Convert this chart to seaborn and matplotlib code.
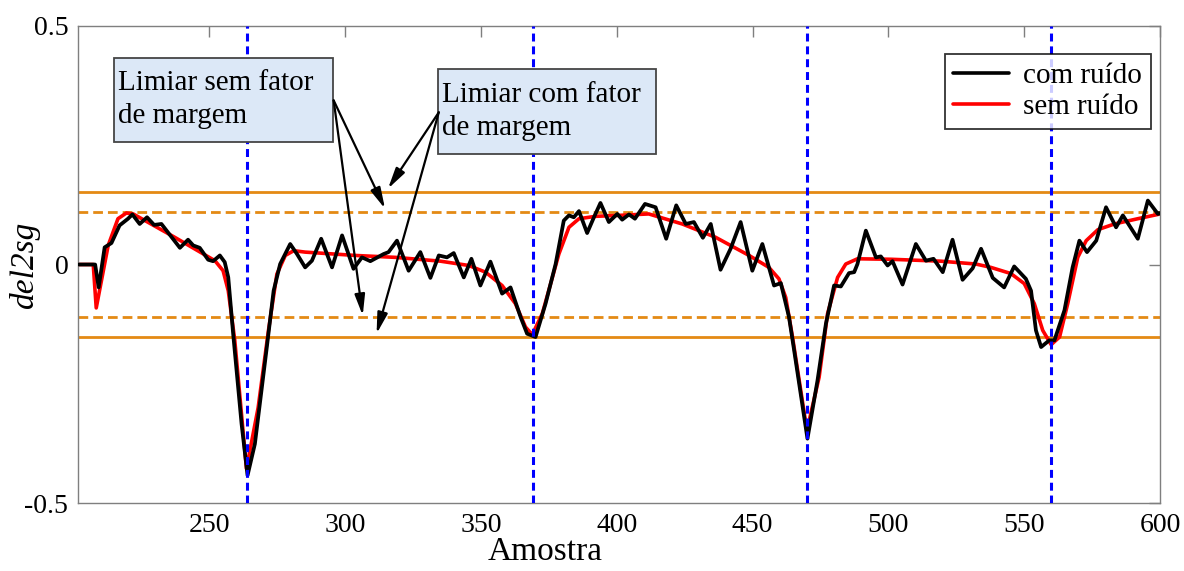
import matplotlib
matplotlib.use("Agg")
import matplotlib.pyplot as plt
import matplotlib.patches as mpatches
from matplotlib.lines import Line2D
import seaborn as sns
import pandas as pd

# Signal with noise (black)
noisy_x = [202, 208, 209.3, 211.5, 214.0, 217.0, 220.1, 221.7, 224.4, 227.1, 229.7, 232.4,
           239.2, 242.2, 244.1, 246.5, 249.6, 251.4, 253.9, 255.7, 257.0, 258.8, 261.9, 264.1,
           266.8, 271.2, 273.7, 276.1, 279.8, 282.3, 285.3, 287.8, 291.2, 295.2, 298.9, 303.1,
           306.2, 309.3, 314.2, 316.0, 319.1, 323.4, 327.7, 331.4, 334.5, 337.5, 340.0, 343.7,
           346.5, 349.8, 353.5, 357.8, 360.9, 364.6, 367.0, 370.1, 373.8, 377.5, 380.5, 382.4,
           384.2, 386.1, 389.1, 391.6, 394.0, 397.1, 400.2, 402.0, 404.5, 406.7, 410.4, 414.3,
           418.2, 421.9, 425.4, 428.4, 431.7, 434.6, 438.2, 441.9, 445.6, 449.9, 453.6, 457.9,
           460.4, 463.4, 465.3, 470.2, 473.9, 477.0, 480.0, 482.5, 485.5, 487.4, 488.6, 491.7,
           495.4, 497.2, 499.7, 501.5, 505.2, 510.1, 513.8, 516.6, 520.0, 523.6, 527.3, 531.0,
           534.1, 538.4, 542.6, 546.3, 550.6, 552.5, 554.3, 556.2, 559.2, 561.1, 564.8, 567.8,
           570.3, 573.1, 576.5, 580.1, 583.8, 586.3, 591.8, 595.5, 599.2, 600]
noisy_y = [0, 0, -0.048, 0.036, 0.045, 0.082, 0.096, 0.105, 0.085, 0.099, 0.083, 0.085,
           0.035, 0.052, 0.040, 0.035, 0.010, 0.007, 0.019, 0.005, -0.027, -0.145, -0.334, -0.442,
           -0.376, -0.173, -0.055, 0.001, 0.043, 0.022, -0.006, 0.008, 0.054, -0.006, 0.061, -0.009,
           0.015, 0.007, 0.022, 0.026, 0.050, -0.013, 0.026, -0.028, 0.019, 0.015, 0.024, -0.027,
           0.012, -0.044, 0.006, -0.061, -0.048, -0.110, -0.145, -0.152, -0.082, 0.001, 0.092, 0.103,
           0.099, 0.112, 0.066, 0.099, 0.129, 0.089, 0.106, 0.094, 0.105, 0.096, 0.127, 0.120,
           0.054, 0.124, 0.085, 0.089, 0.056, 0.085, -0.011, 0.033, 0.089, -0.013, 0.043, -0.044,
           -0.039, -0.110, -0.180, -0.365, -0.243, -0.124, -0.044, -0.046, -0.018, -0.016, 0.001, 0.071,
           0.015, 0.017, -0.002, 0.007, -0.042, 0.043, 0.008, 0.012, -0.016, 0.052, -0.032, -0.008,
           0.033, -0.028, -0.048, -0.004, -0.030, -0.055, -0.138, -0.173, -0.159, -0.159, -0.096, -0.006,
           0.050, 0.026, 0.050, 0.120, 0.078, 0.103, 0.054, 0.134, 0.106, 0.108]

# Signal without noise (red)
clean_x = [202, 207.3, 208.4, 212.8, 216.4, 219.5, 222.0, 237.0, 252.1, 255.1, 257.0, 259.4,
           263.7, 268.0, 271.8, 274.9, 278.0, 281.1, 285.3, 303.8, 318.5, 335.1, 345.5, 351.7,
           357.8, 362.7, 366.4, 368.9, 372.6, 378.7, 382.4, 386.1, 392.2, 400.8, 411.8, 424.1,
           436.4, 448.7, 456.0, 459.7, 462.2, 464.7, 470.0, 474.5, 477.6, 481.3, 484.3, 488.6,
           500.9, 519.3, 532.2, 537.7, 545.1, 550.0, 553.7, 556.8, 559.9, 563.0, 566.0, 569.7,
           572.8, 577.1, 583.2, 591.8, 600]
clean_y = [0, 0, -0.091, 0.040, 0.096, 0.108, 0.106, 0.058, 0.008, -0.013, -0.055, -0.159,
           -0.428, -0.300, -0.138, -0.020, 0.019, 0.029, 0.026, 0.019, 0.015, 0.007, -0.002, -0.016,
           -0.044, -0.082, -0.131, -0.147, -0.103, 0.022, 0.078, 0.096, 0.101, 0.103, 0.106, 0.085,
           0.057, 0.019, -0.006, -0.030, -0.069, -0.152, -0.348, -0.236, -0.103, -0.027, 0.001, 0.012,
           0.011, 0.007, 0.001, -0.006, -0.019, -0.040, -0.082, -0.138, -0.168, -0.152, -0.082, 0.015,
           0.050, 0.073, 0.085, 0.096, 0.106]

# Detected events and thresholds
event_samples = [264, 369, 470, 560]
threshold_no_margin = 0.151
threshold_with_margin = 0.110

x_ticks = [250, 300, 350, 400, 450, 500, 550, 600]
y_ticks = [-0.5, 0, 0.5]
y_tick_labels = ["-0.5", "0", "0.5"]

series_names = ["com ruído", "sem ruído"]
series_colors = {"com ruído": "#000000", "sem ruído": "#FF0000"}

df = pd.concat([
    pd.DataFrame({"Amostra": noisy_x, "del2sg": noisy_y, "serie": series_names[0]}),
    pd.DataFrame({"Amostra": clean_x, "del2sg": clean_y, "serie": series_names[1]}),
], ignore_index=True)

sns.set_theme(style="white")
plt.rcParams["font.family"] = ["Liberation Serif", "DejaVu Serif"]
plt.rcParams["axes.unicode_minus"] = False
plt.rcParams["text.color"] = "black"
plt.rcParams["axes.labelcolor"] = "black"

fig = plt.figure(figsize=(11.84, 5.71), dpi=100)
ax = fig.add_axes([0.0659, 0.119, 0.9139, 0.8355])

orange = "#E48A14"
for t in (threshold_no_margin, -threshold_no_margin):
    ax.axhline(t, color=orange, lw=2.0, zorder=1)
for t in (threshold_with_margin, -threshold_with_margin):
    ax.axhline(t, color=orange, lw=2.0, dashes=(3.5, 1.8), zorder=1)

sns.lineplot(data=df[df["serie"] == series_names[1]], x="Amostra", y="del2sg",
             color=series_colors[series_names[1]], lw=2.6, sort=False, estimator=None,
             ax=ax, zorder=2, legend=False)
sns.lineplot(data=df[df["serie"] == series_names[0]], x="Amostra", y="del2sg",
             color=series_colors[series_names[0]], lw=2.7, sort=False, estimator=None,
             ax=ax, zorder=3, legend=False)
for ln in ax.get_lines():
    ln.set_solid_joinstyle("round")

for s in event_samples:
    ax.axvline(s, color="#0000FF", lw=2.2, dashes=(2.6, 1.6), zorder=4)

ax.set_xlim(201.7, 600)
ax.set_ylim(-0.5, 0.5)
ax.set_xticks(x_ticks)
ax.set_yticks(y_ticks)
ax.set_yticklabels(y_tick_labels)
ax.tick_params(direction="in", top=True, right=True, length=8, width=1,
               color="#7f7f7f", labelcolor="black", labelsize=20, pad=7)
for sp in ax.spines.values():
    sp.set_color("#7f7f7f")
    sp.set_linewidth(1.0)

ax.set_xlabel("Amostra", fontsize=24)
ax.xaxis.set_label_coords(0.4316, -0.071)
ax.set_ylabel("del2sg", fontsize=24, style="italic")
ax.yaxis.set_label_coords(-0.035, 0.5)

# Annotation boxes
box_fc = "#DCE8F7"
box_ec = "#454545"
ax.add_patch(mpatches.Rectangle((0.0337, 0.7575), 0.2016, 0.176, transform=ax.transAxes,
                                fc=box_fc, ec=box_ec, lw=1.3, zorder=5))
ax.text(0.037, 0.8455, "Limiar sem fator\nde margem", transform=ax.transAxes,
        ha="left", va="center", fontsize=21, linespacing=1.35, zorder=6)
ax.add_patch(mpatches.Rectangle((0.333, 0.7317), 0.2016, 0.1775, transform=ax.transAxes,
                                fc=box_fc, ec=box_ec, lw=1.3, zorder=5))
ax.text(0.3365, 0.8205, "Limiar com fator\nde margem", transform=ax.transAxes,
        ha="left", va="center", fontsize=21, linespacing=1.35, zorder=6)

arrow_kw = dict(arrowstyle="-|>,head_length=0.9,head_width=0.22", color="black",
                lw=1.6, shrinkA=0, shrinkB=0, mutation_scale=14)
for start, end in [((295.8, 0.344), (314.7, 0.117)),
                   ((295.8, 0.344), (306.5, -0.107)),
                   ((334.5, 0.319), (315.8, 0.159)),
                   ((334.5, 0.319), (311.6, -0.145))]:
    ax.annotate("", xy=end, xytext=start, xycoords="data", textcoords="data",
                arrowprops=arrow_kw, zorder=6)

handles = [Line2D([], [], color=series_colors[n], lw=2.6) for n in series_names]
leg = ax.legend(handles, series_names, loc="upper right", bbox_to_anchor=(0.9917, 0.941),
                fontsize=21, frameon=True, fancybox=False, edgecolor="black",
                handlelength=1.9, handletextpad=0.5, borderpad=0.3, labelspacing=0.15,
                borderaxespad=0)
leg.get_frame().set_linewidth(1.3)
leg.set_zorder(7)

fig.savefig("out.png", dpi=100, facecolor="white")
